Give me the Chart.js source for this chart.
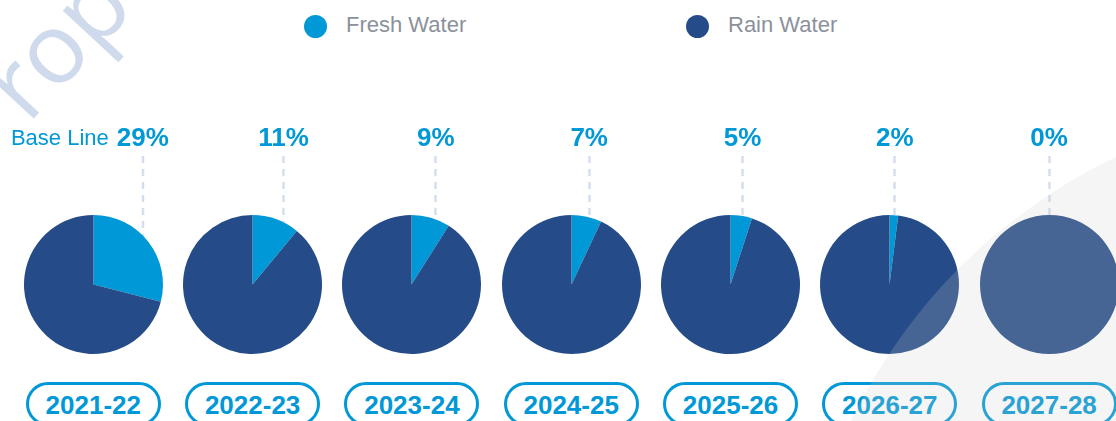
<!DOCTYPE html>
<html>
<head>
<meta charset="utf-8">
<script src="https://cdn.jsdelivr.net/npm/chart.js@4.4.0/dist/chart.umd.min.js"></script>
<style>
  html, body { margin: 0; padding: 0; background: #ffffff; }
  #stage { position: relative; width: 1116px; height: 421px; overflow: hidden; background: #ffffff; font-family: "Liberation Sans", Arial, sans-serif; }
  .abs { position: absolute; white-space: nowrap; line-height: 0; }
  .watermark { position: absolute; left: 0; top: 0; font-family: "Open Sans", sans-serif; font-size: 98px; color: #cfdbec; transform-origin: 0 0; white-space: nowrap; line-height: 0; }
  .legend-dot { position: absolute; width: 23px; height: 23px; border-radius: 50%; }
  .legend-text { font-size: 22px; color: #8b919b; }
  .pct { font-size: 26px; font-weight: bold; color: #0098d6; }
  .prefix { font-size: 22px; color: #0098d6; }
  .pill { position: absolute; box-sizing: border-box; width: 135px; height: 44px; border: 3px solid #0098d6; border-radius: 22px; }
  .year { font-size: 26px; font-weight: bold; color: #0098d6; }
  canvas.pie { position: absolute; }
  #veil { position: absolute; left: 796px; top: 103px; width: 1120px; height: 1120px; border-radius: 50%; background: rgba(204,204,204,0.2); pointer-events: none; z-index: 10; }
</style>
</head>
<body>
<div id="stage">
  <div class="watermark" id="wm">Property</div>
</div>
<script>
// ---------------- DATA ----------------
const years = ['2021-22', '2022-23', '2023-24', '2024-25', '2025-26', '2026-27', '2027-28'];
const freshWater = [29, 11, 9, 7, 5, 2, 0];
const rainWater = [71, 89, 91, 93, 95, 98, 100];
const seriesNames = ['Fresh Water', 'Rain Water'];
const labelPrefixes = ['Base Line', '', '', '', '', '', ''];

// ---------------- LAYOUT / STYLE ----------------
const seriesColors = ['#0098d6', '#254c88'];
const firstCenterX = 93.3, stepX = 159.3;
const labelOffsets = [49.5, 31, 24, 18, 12, 5, 0];
const canvasTop = 150, canvasW = 159, canvasH = 210;
const pad = { top: 65, bottom: 6, left: 10, right: 10 };
const dashStartY = 156;

const stage = document.getElementById('stage');
const wm = document.getElementById('wm');
wm.style.transform = 'translate(-40px, 142px) rotate(-47deg)';

function textAt(cls, text, x, baseline, fs, align) {
  const d = document.createElement('div');
  d.className = 'abs ' + cls;
  d.textContent = text;
  d.style.top = (baseline - 0.3465 * fs) + 'px';
  if (align === 'center') { d.style.left = x + 'px'; d.style.transform = 'translateX(-50%)'; }
  else if (align === 'right') { d.style.right = (1116 - x) + 'px'; }
  else { d.style.left = x + 'px'; }
  stage.appendChild(d);
  return d;
}

// Legend
const legendPos = [{ dot: 315, text: 346 }, { dot: 697, text: 728 }];
seriesNames.forEach((name, k) => {
  const dot = document.createElement('div');
  dot.className = 'legend-dot';
  dot.style.background = seriesColors[k];
  dot.style.left = (legendPos[k].dot - 11.5) + 'px';
  dot.style.top = (26 - 11.5) + 'px';
  stage.appendChild(dot);
  textAt('legend-text', name, legendPos[k].text, 32.3, 22, 'left');
});

// Dashed leader line plugin (drawn behind the pie from the arc geometry)
const leaderPlugin = {
  id: 'leader',
  beforeDatasetsDraw(chart, args, opts) {
    const arc = chart.getDatasetMeta(0).data[0];
    if (!arc) return;
    const r = arc.outerRadius, off = opts.offset;
    const x = arc.x + off;
    const yEnd = arc.y - Math.sqrt(Math.max(r * r - off * off, 0));
    const ctx = chart.ctx;
    ctx.save();
    ctx.strokeStyle = '#d3dfee';
    ctx.lineWidth = 2.5;
    ctx.setLineDash([7, 6]);
    ctx.beginPath();
    ctx.moveTo(x, dashStartY - canvasTop);
    ctx.lineTo(x, yEnd);
    ctx.stroke();
    ctx.restore();
  }
};

years.forEach((yr, i) => {
  const cx = firstCenterX + i * stepX;
  const cv = document.createElement('canvas');
  cv.className = 'pie';
  cv.width = canvasW; cv.height = canvasH;
  cv.style.width = canvasW + 'px'; cv.style.height = canvasH + 'px';
  cv.style.left = (cx - canvasW / 2) + 'px';
  cv.style.top = canvasTop + 'px';
  stage.appendChild(cv);
  new Chart(cv, {
    type: 'pie',
    data: {
      labels: seriesNames,
      datasets: [{
        data: [freshWater[i], rainWater[i]],
        backgroundColor: seriesColors,
        borderWidth: 0,
        hoverOffset: 0
      }]
    },
    options: {
      responsive: false,
      animation: false,
      devicePixelRatio: 1,
      layout: { padding: pad },
      plugins: { legend: { display: false }, tooltip: { enabled: false }, leader: { offset: labelOffsets[i] } },
      events: []
    },
    plugins: [leaderPlugin]
  });

  // percent label
  const lx = cx + labelOffsets[i];
  const p = textAt('pct', freshWater[i] + '%', lx, 146, 26, 'center');
  if (labelPrefixes[i]) {
    const pl = p.getBoundingClientRect().left - stage.getBoundingClientRect().left;
    textAt('prefix', labelPrefixes[i], pl - 8, 146, 22, 'right');
  }

  // year pill
  const pill = document.createElement('div');
  pill.className = 'pill';
  pill.style.left = (cx - 67.5) + 'px';
  pill.style.top = '382px';
  stage.appendChild(pill);
  textAt('year', yr, cx, 414, 26, 'center');
});

const veil = document.createElement('div');
veil.id = 'veil';
stage.appendChild(veil);
</script>
</body>
</html>
